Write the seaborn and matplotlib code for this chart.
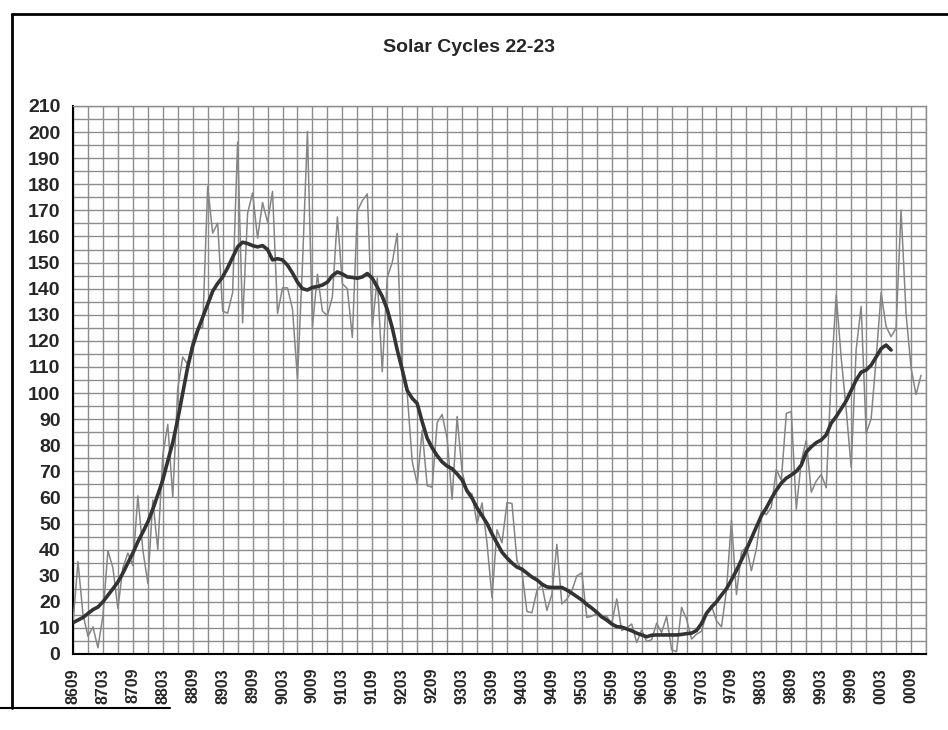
import matplotlib
matplotlib.use("Agg")
import matplotlib.pyplot as plt
from matplotlib import font_manager
from matplotlib.lines import Line2D
import numpy as np
import pandas as pd
import seaborn as sns

# ---------------- data (Sep 1986 .. Nov 2000, monthly) ----------------
monthly_sunspots = [
    12.0, 35.4, 15.2, 6.8,
    10.4, 2.4, 14.7, 39.6, 33.0, 17.4, 33.0, 38.7, 33.9, 60.6, 39.9, 27.1,
    59.0, 40.0, 76.2, 88.0, 60.1, 101.8, 113.8, 111.0, 120.1, 125.1, 125.1, 179.2,
    161.3, 165.1, 131.4, 130.6, 138.5, 196.2, 126.9, 168.9, 176.7, 159.4, 173.0, 165.5,
    177.3, 130.5, 140.3, 140.3, 132.2, 105.4, 149.4, 200.3, 125.2, 145.5, 131.4, 129.7,
    136.9, 167.5, 141.9, 140.0, 121.3, 169.7, 173.7, 176.3, 125.3, 144.1, 108.2, 144.4,
    150.0, 161.1, 106.7, 99.8, 73.8, 65.2, 85.7, 64.5, 63.9, 88.7, 91.8, 82.6,
    59.3, 91.0, 69.8, 62.2, 61.3, 49.8, 57.9, 42.4, 21.6, 47.6, 42.6, 58.0,
    57.7, 35.8, 31.6, 16.3, 15.8, 24.3, 26.6, 16.7, 22.8, 42.0, 19.2, 21.0,
    24.2, 29.9, 31.1, 14.0, 14.5, 15.6, 14.5, 14.3, 11.8, 21.1, 9.0, 10.0,
    11.5, 4.4, 9.2, 4.8, 5.5, 11.8, 8.2, 14.4, 1.6, 0.9, 17.9, 13.3,
    5.7, 7.6, 8.7, 15.5, 18.5, 12.7, 10.4, 24.4, 51.3, 22.8, 39.0, 41.2,
    31.9, 40.3, 54.8, 53.4, 56.3, 70.7, 66.6, 92.2, 92.9, 55.5, 74.0, 81.9,
    62.0, 66.3, 68.8, 63.7, 106.4, 137.7, 113.5, 93.7, 71.5, 116.7, 133.2, 84.6,
    90.1, 112.9, 138.5, 125.5, 121.6, 124.9, 170.1, 130.5, 109.7, 99.4, 106.8,
]

# smoothed (Sep 1986 .. May 2000)
smoothed_sunspots = [
    12.0, 13.0, 14.0, 15.5,
    17.0, 18.0, 20.0, 22.5, 25.0, 27.6, 31.0, 34.9, 38.7, 43.0, 46.7, 50.6,
    55.5, 61.0, 66.7, 74.0, 81.0, 90.0, 100.0, 110.0, 118.0, 124.0, 129.0, 134.0,
    139.0, 142.0, 144.5, 148.0, 152.0, 156.0, 157.8, 157.3, 156.5, 156.0, 156.5, 155.0,
    151.0, 151.5, 151.0, 149.0, 146.0, 142.5, 140.0, 139.5, 140.5, 140.8, 141.4, 142.5,
    145.0, 146.4, 145.6, 144.5, 144.3, 144.0, 144.5, 145.8, 144.0, 140.6, 137.0, 132.0,
    125.0, 116.5, 109.0, 101.0, 98.0, 96.0, 89.0, 82.7, 79.0, 76.0, 73.6, 72.0,
    71.0, 69.0, 66.7, 62.5, 59.7, 56.0, 53.0, 50.0, 46.0, 42.5, 39.0, 36.8,
    34.9, 33.3, 32.5, 31.0, 29.5, 28.4, 26.8, 25.7, 25.5, 25.5, 25.5, 24.5,
    23.3, 22.0, 20.7, 19.0, 17.6, 16.0, 14.2, 13.0, 11.5, 10.5, 10.3, 9.6,
    8.9, 8.0, 7.3, 6.6, 7.2, 7.3, 7.3, 7.3, 7.3, 7.3, 7.5, 7.8,
    8.0, 9.0, 11.7, 15.6, 18.0, 20.0, 22.6, 25.0, 28.4, 32.0, 36.0, 40.0,
    44.4, 48.7, 53.0, 56.0, 59.6, 62.8, 65.5, 67.4, 68.6, 70.0, 72.4, 77.4,
    79.4, 81.0, 82.0, 84.0, 88.5, 91.0, 94.0, 97.0, 101.0, 105.0, 108.0, 108.8,
    110.7, 113.8, 117.0, 118.4, 116.5,
]

tick_labels = ["8609", "8703", "8709", "8803", "8809", "8903", "8909", "9003",
               "9009", "9103", "9109", "9203", "9209", "9303", "9309", "9403",
               "9409", "9503", "9509", "9603", "9609", "9703", "9709", "9803",
               "9809", "9903", "9909", "0003", "0009"]
title_text = "Solar Cycles 22-23"

# ---------------- fonts ----------------
available = {f.name for f in font_manager.fontManager.ttflist}
base_font = "Liberation Sans" if "Liberation Sans" in available else "DejaVu Sans"
title_font = "Liberation Sans Narrow" if "Liberation Sans Narrow" in available else base_font

sns.set_style("white")
plt.rcParams["font.family"] = [base_font, "DejaVu Sans"]

df_raw = pd.DataFrame({"month": np.arange(len(monthly_sunspots)), "value": monthly_sunspots})
df_smooth = pd.DataFrame({"month": np.arange(len(smoothed_sunspots)), "value": smoothed_sunspots})

fig = plt.figure(figsize=(9.48, 7.30), dpi=100)
ax = fig.add_axes([73 / 948, 1 - 654 / 730, (926 - 73) / 948, (654 - 106) / 730])

sns.lineplot(data=df_raw, x="month", y="value", ax=ax, color="#858585", linewidth=1.1, zorder=3)
sns.lineplot(data=df_smooth, x="month", y="value", ax=ax, color="#333333", linewidth=2.6, zorder=4)

ax.set_xlim(0, 171)
ax.set_ylim(0, 210)

ax.set_xticks(np.arange(0, 6 * len(tick_labels), 6))
ax.set_xticklabels(tick_labels, rotation=90, fontsize=11.5, fontweight="bold")
ax.set_xticks(np.arange(3, 172, 6), minor=True)
ax.set_yticks(np.arange(0, 211, 10))
ax.set_yticklabels([str(v) for v in range(0, 211, 10)], fontsize=14, fontweight="bold")
ax.set_yticks(np.arange(5, 210, 10), minor=True)

ax.tick_params(axis="both", which="both", direction="out", color="black", width=1.2)
ax.tick_params(axis="x", which="major", length=6, pad=4)
ax.tick_params(axis="x", which="minor", length=6)
ax.tick_params(axis="y", which="major", length=6, pad=3)
ax.tick_params(axis="y", which="minor", length=6)

ax.grid(True, which="both", color="#8c8c8c", linewidth=1.0)
ax.set_axisbelow(True)

for side in ["left", "bottom"]:
    ax.spines[side].set_color("black")
    ax.spines[side].set_linewidth(1.5)
for side in ["top", "right"]:
    ax.spines[side].set_color("#8c8c8c")
    ax.spines[side].set_linewidth(1.0)

ax.set_xlabel("")
ax.set_ylabel("")

fig.text(469 / 948, 1 - 47 / 730, title_text, ha="center", va="center",
         fontsize=14, fontweight="bold", family=[title_font, "DejaVu Sans"])

# outer chart-area frame (as in the scanned page)
fig.add_artist(Line2D([12 / 948, 1.0], [1 - 14 / 730, 1 - 14 / 730], transform=fig.transFigure,
                      color="black", linewidth=2.0))
fig.add_artist(Line2D([12 / 948, 12 / 948], [1 - 14 / 730, 1 - 708 / 730], transform=fig.transFigure,
                      color="black", linewidth=2.0))
fig.add_artist(Line2D([0.0, 170 / 948], [1 - 708 / 730, 1 - 708 / 730], transform=fig.transFigure,
                      color="black", linewidth=1.5))

fig.savefig("out.png", dpi=100)
